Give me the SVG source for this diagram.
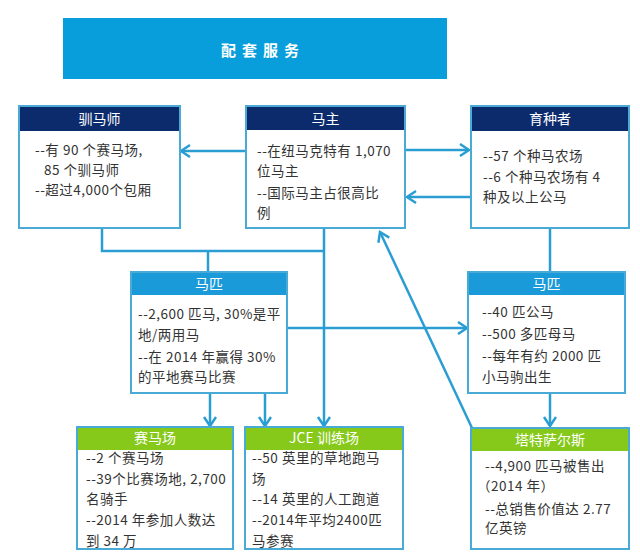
<svg xmlns="http://www.w3.org/2000/svg" width="640" height="560" viewBox="0 0 640 560">
<defs>
<style>
.box{fill:#ffffff;stroke:#4aaad6;stroke-width:2}
.hd1{fill:#0c2b6c}
.hd2{fill:#1a9ad8}
.hd3{fill:#86c91a}
.ht{font-family:"Noto Sans CJK SC","Noto Sans",sans-serif;font-size:14px;fill:#ffffff;text-anchor:middle}
.tx{font-family:"Noto Sans CJK SC","Noto Sans",sans-serif;font-size:13.5px;letter-spacing:0.5px;fill:#333333}
.ln{fill:none;stroke:#2a9ed2;stroke-width:2.5}
</style>
<marker id="ah" markerUnits="userSpaceOnUse" markerWidth="14" markerHeight="16" refX="11" refY="7" orient="auto" viewBox="0 0 14 16">
<path d="M2,1 L11,7 L2,13" fill="none" stroke="#2a9ed2" stroke-width="2.5"/>
</marker>
</defs>
<rect width="640" height="560" fill="#ffffff"/>

<g id="connectors">
<line class="ln" x1="246" y1="151" x2="181" y2="151" marker-end="url(#ah)"/>
<line class="ln" x1="405" y1="150" x2="469" y2="150" marker-end="url(#ah)"/>
<line class="ln" x1="471" y1="197" x2="407" y2="197" marker-end="url(#ah)"/>
<polyline class="ln" points="102,228 102,251 324,251"/>
<line class="ln" x1="208" y1="251" x2="208" y2="272"/>
<line class="ln" x1="324" y1="228" x2="324" y2="426" marker-end="url(#ah)"/>
<line class="ln" x1="550" y1="228" x2="550" y2="272"/>
<line class="ln" x1="287" y1="328" x2="467" y2="328" marker-end="url(#ah)"/>
<line class="ln" x1="210" y1="393" x2="210" y2="426" marker-end="url(#ah)"/>
<line class="ln" x1="265" y1="393" x2="265" y2="426" marker-end="url(#ah)"/>
<line class="ln" x1="550" y1="393" x2="550" y2="426" marker-end="url(#ah)"/>
<line class="ln" x1="472" y1="428" x2="380" y2="232" marker-end="url(#ah)"/>
</g>

<g id="banner">
<rect x="63" y="18" width="384" height="61" fill="#079edb"/>
<text x="263" y="56" class="ht" style="font-size:15px;font-weight:bold;letter-spacing:6px">配套服务</text>
</g>

<g id="trainer">
<rect class="box" x="19" y="106" width="161" height="122"/>
<rect class="hd1" x="20" y="107" width="159" height="24"/>
<text class="ht" x="99.5" y="124">驯马师</text>
<text class="tx" x="35" y="155">--有 90 个赛马场,</text>
<text class="tx" x="44" y="175">85 个驯马师</text>
<text class="tx" x="35" y="195">--超过4,000个包厢</text>
</g>

<g id="owner">
<rect class="box" x="246" y="106" width="159" height="122"/>
<rect class="hd1" x="247" y="107" width="157" height="23"/>
<text class="ht" x="325.5" y="124">马主</text>
<text class="tx" x="257" y="156">--在纽马克特有 1,070</text>
<text class="tx" x="257" y="176">位马主</text>
<text class="tx" x="257" y="198">--国际马主占很高比</text>
<text class="tx" x="257" y="218">例</text>
</g>

<g id="breeder">
<rect class="box" x="471" y="106" width="158" height="122"/>
<rect class="hd1" x="472" y="107" width="156" height="24"/>
<text class="ht" x="550" y="124">育种者</text>
<text class="tx" x="483" y="161">--57 个种马农场</text>
<text class="tx" x="483" y="182">--6 个种马农场有 4</text>
<text class="tx" x="483" y="202">种及以上公马</text>
</g>

<g id="horses-left">
<rect class="box" x="131" y="272" width="156" height="121"/>
<rect class="hd2" x="132" y="273" width="154" height="22"/>
<text class="ht" x="209" y="289">马匹</text>
<text class="tx" x="138" y="319">--2,600 匹马, 30%是平</text>
<text class="tx" x="138" y="340">地/两用马</text>
<text class="tx" x="138" y="362">--在 2014 年赢得 30%</text>
<text class="tx" x="138" y="382">的平地赛马比赛</text>
</g>

<g id="horses-right">
<rect class="box" x="468" y="272" width="157" height="121"/>
<rect class="hd2" x="469" y="273" width="155" height="22"/>
<text class="ht" x="546.5" y="289">马匹</text>
<text class="tx" x="482" y="317">--40 匹公马</text>
<text class="tx" x="482" y="339">--500 多匹母马</text>
<text class="tx" x="482" y="361">--每年有约 2000 匹</text>
<text class="tx" x="482" y="382">小马驹出生</text>
</g>

<g id="racecourse">
<rect class="box" x="77" y="427" width="156" height="122"/>
<rect class="hd3" x="78" y="428" width="154" height="22"/>
<text class="ht" x="155" y="443">赛马场</text>
<text class="tx" x="86" y="463">--2 个赛马场</text>
<text class="tx" x="86" y="484">--39个比赛场地, 2,700</text>
<text class="tx" x="86" y="504">名骑手</text>
<text class="tx" x="86" y="525">--2014  年参加人数达</text>
<text class="tx" x="86" y="546">到 34 万</text>
</g>

<g id="training">
<rect class="box" x="245" y="427" width="158" height="122"/>
<rect class="hd3" x="246" y="428" width="156" height="22"/>
<text class="ht" x="324" y="443">JCE  训练场</text>
<text class="tx" x="252" y="463">--50 英里的草地跑马</text>
<text class="tx" x="252" y="484">场</text>
<text class="tx" x="252" y="504">--14 英里的人工跑道</text>
<text class="tx" x="252" y="525">--2014年平均2400匹</text>
<text class="tx" x="252" y="546">马参赛</text>
</g>

<g id="tattersalls">
<rect class="box" x="471" y="428" width="158" height="121"/>
<rect class="hd3" x="472" y="429" width="156" height="22"/>
<text class="ht" x="550" y="445">塔特萨尔斯</text>
<text class="tx" x="485" y="471">--4,900 匹马被售出</text>
<text class="tx" x="477" y="491">（2014 年）</text>
<text class="tx" x="485" y="514">--总销售价值达 2.77</text>
<text class="tx" x="485" y="533">亿英镑</text>
</g>
</svg>
